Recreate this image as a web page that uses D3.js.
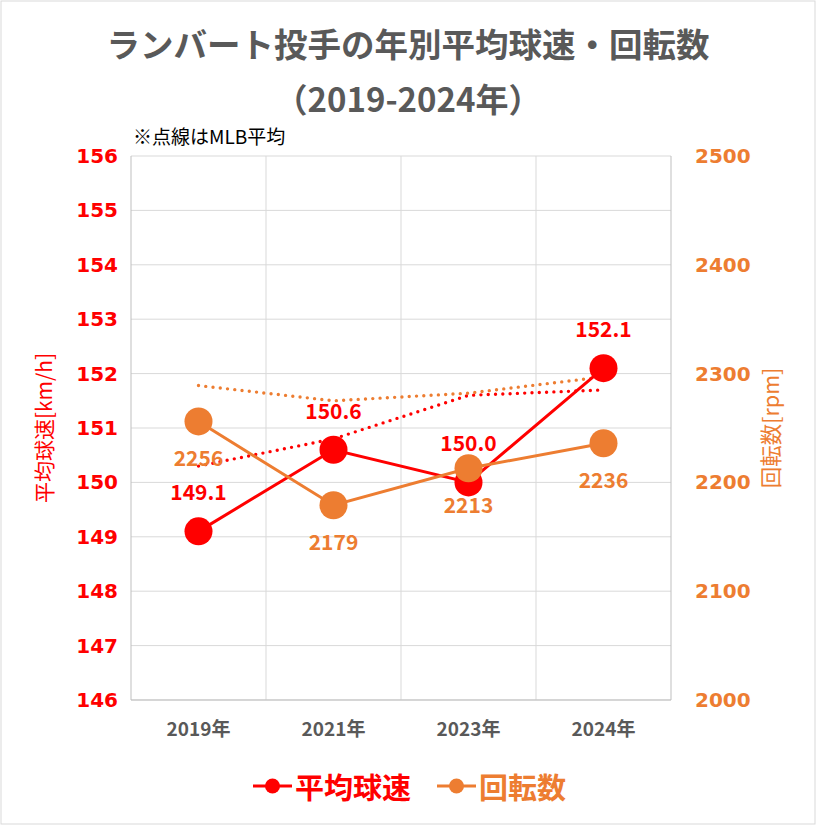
<!DOCTYPE html>
<html><head><meta charset="utf-8">
<script src="https://cdn.jsdelivr.net/npm/d3@7"></script>
<style>body{margin:0;background:#fff;} svg{display:block;font-family:"DejaVu Sans","Noto Sans CJK JP",sans-serif;}</style>
</head><body>
<svg id="c" width="817" height="826"></svg>
<script>
const categories = ["2019年","2021年","2023年","2024年"];
const velocity = [149.1, 150.6, 150.0, 152.1];
const spin = [2256, 2179, 2213, 2236];
const mlbVelocity = [150.3, 150.8, 151.6, 151.7];
const mlbSpin = [2289, 2275, 2282, 2297];
const leftTicks = [146,147,148,149,150,151,152,153,154,155,156];
const rightTicks = [2000,2100,2200,2300,2400,2500];

const RED = "#FF0000", ORANGE = "#ED7D31", GREY = "#595959";
const JP = "'Noto Sans CJK JP',sans-serif";
const svg = d3.select("#c");
const m = {l:131, r:671, t:156, b:700};

svg.append("rect").attr("x",1).attr("y",1).attr("width",814).attr("height",823)
  .attr("fill","#fff").attr("stroke","#d9d9d9");

const x = d3.scaleBand().domain(categories).range([m.l, m.r]);
const yL = d3.scaleLinear().domain([146,156]).range([m.b, m.t]);
const yR = d3.scaleLinear().domain([2000,2500]).range([m.b, m.t]);
const cx = c => x(c) + x.bandwidth()/2;

// gridlines
svg.append("g").selectAll("line").data(leftTicks).join("line")
  .attr("x1",m.l).attr("x2",m.r).attr("y1",d=>yL(d)).attr("y2",d=>yL(d))
  .attr("stroke","#d9d9d9").attr("stroke-width",1);
svg.append("g").selectAll("line").data(categories.slice(1)).join("line")
  .attr("x1",d=>x(d)).attr("x2",d=>x(d)).attr("y1",m.t).attr("y2",m.b)
  .attr("stroke","#d9d9d9");
svg.append("line").attr("x1",m.l).attr("x2",m.l).attr("y1",m.t).attr("y2",m.b).attr("stroke","#bfbfbf");
svg.append("line").attr("x1",m.r).attr("x2",m.r).attr("y1",m.t).attr("y2",m.b).attr("stroke","#bfbfbf");
svg.append("line").attr("x1",m.l).attr("x2",m.r).attr("y1",m.b).attr("y2",m.b).attr("stroke","#bfbfbf");

// axes
const axL = svg.append("g").attr("transform",`translate(${m.l},0)`)
  .call(d3.axisLeft(yL).tickValues(leftTicks).tickSize(0).tickPadding(13));
axL.select(".domain").remove();
axL.selectAll("text").attr("fill",RED).attr("font-size",20).attr("font-weight","bold")
  .attr("font-family","'DejaVu Sans',sans-serif");

const axR = svg.append("g").attr("transform",`translate(${m.r},0)`)
  .call(d3.axisRight(yR).tickValues(rightTicks).tickFormat(d3.format("d")).tickSize(0).tickPadding(24));
axR.select(".domain").remove();
axR.selectAll("text").attr("fill",ORANGE).attr("font-size",20).attr("font-weight","bold")
  .attr("font-family","'DejaVu Sans',sans-serif");

const axB = svg.append("g").attr("transform",`translate(0,${m.b})`)
  .call(d3.axisBottom(x).tickSize(0).tickPadding(23));
axB.select(".domain").remove();
axB.selectAll("text").attr("fill",GREY).attr("font-size",19).attr("font-weight","bold")
  .attr("font-family",JP);

// titles
svg.append("text").attr("x",408).attr("y",57).attr("text-anchor","middle")
  .attr("font-family",JP).attr("font-size",33.5).attr("font-weight","bold")
  .attr("fill",GREY).text("ランバート投手の年別平均球速・回転数");
svg.append("text").attr("x",408).attr("y",112).attr("text-anchor","middle")
  .attr("font-family",JP).attr("font-size",33).attr("font-weight","bold")
  .attr("fill",GREY).text("（2019-2024年）");
svg.append("text").attr("x",133).attr("y",144)
  .attr("font-family",JP).attr("font-size",19)
  .attr("fill","#000").text("※点線はMLB平均");

svg.append("text").attr("transform","translate(46,428) rotate(-90)").attr("text-anchor","middle")
  .attr("font-family",JP).attr("font-size",21).attr("fill",RED)
  .attr("dominant-baseline","middle").text("平均球速[km/h]");
svg.append("text").attr("transform","translate(773,428) rotate(-90)").attr("text-anchor","middle")
  .attr("font-family",JP).attr("font-size",21.5).attr("fill",ORANGE)
  .attr("dominant-baseline","middle").text("回転数[rpm]");

// dotted MLB lines
const lineL = d3.line().x((d,i)=>cx(categories[i])).y(d=>yL(d));
const lineR = d3.line().x((d,i)=>cx(categories[i])).y(d=>yR(d));
svg.append("path").attr("d",lineL(mlbVelocity)).attr("fill","none").attr("stroke",RED)
  .attr("stroke-width",3.4).attr("stroke-linecap","round").attr("stroke-dasharray","0 7.3");
svg.append("path").attr("d",lineR(mlbSpin)).attr("fill","none").attr("stroke",ORANGE)
  .attr("stroke-width",3.4).attr("stroke-linecap","round").attr("stroke-dasharray","0 7.3");

// main series
svg.append("path").attr("d",lineL(velocity)).attr("fill","none").attr("stroke",RED).attr("stroke-width",3);
svg.append("g").selectAll("circle").data(velocity).join("circle")
  .attr("cx",(d,i)=>cx(categories[i])).attr("cy",d=>yL(d)).attr("r",14).attr("fill",RED);
svg.append("path").attr("d",lineR(spin)).attr("fill","none").attr("stroke",ORANGE).attr("stroke-width",3);
svg.append("g").selectAll("circle").data(spin).join("circle")
  .attr("cx",(d,i)=>cx(categories[i])).attr("cy",d=>yR(d)).attr("r",14).attr("fill",ORANGE);

// data labels
svg.append("g").selectAll("text").data(velocity).join("text")
  .attr("x",(d,i)=>cx(categories[i])).attr("y",d=>yL(d)-31).attr("text-anchor","middle")
  .attr("font-family",JP).attr("font-size",21).attr("font-weight","bold")
  .attr("fill",RED).text(d=>d.toFixed(1));
svg.append("g").selectAll("text").data(spin).join("text")
  .attr("x",(d,i)=>cx(categories[i])).attr("y",d=>yR(d)+45).attr("text-anchor","middle")
  .attr("font-family",JP).attr("font-size",21).attr("font-weight","bold")
  .attr("fill",ORANGE).text(d=>d);

// legend
const legend = [{name:"平均球速",color:RED,x:253},{name:"回転数",color:ORANGE,x:437}];
const lg = svg.append("g").selectAll("g").data(legend).join("g").attr("transform",d=>`translate(${d.x},786)`);
lg.append("line").attr("x1",0).attr("x2",39).attr("stroke",d=>d.color).attr("stroke-width",3);
lg.append("circle").attr("cx",19.5).attr("r",7.5).attr("fill",d=>d.color);
lg.append("text").attr("x",42).attr("y",0).attr("dominant-baseline","central")
  .attr("font-family",JP).attr("font-size",29).attr("font-weight","bold")
  .attr("fill",d=>d.color).text(d=>d.name);
</script>
</body></html>
